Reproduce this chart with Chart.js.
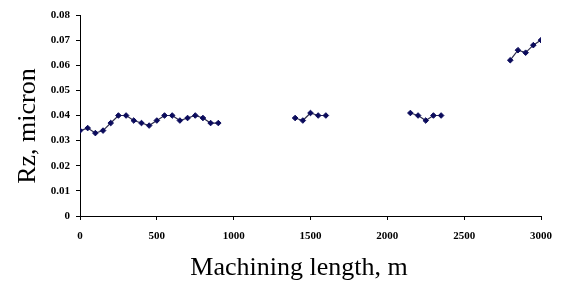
<!DOCTYPE html>
<html>
<head>
<meta charset="utf-8">
<script src="https://cdn.jsdelivr.net/npm/chart.js@4/dist/chart.umd.min.js"></script>
<style>
  html, body { margin: 0; padding: 0; background: #fff; }
  #wrap { width: 562px; height: 282px; }
</style>
</head>
<body>
<div id="wrap"><canvas id="rzChart" width="562" height="282"></canvas></div>
<script>
// machining length (m); null separates the measurement runs
const lengthM = [0, 50, 100, 150, 200, 250, 300, 350, 400, 450, 500, 550, 600, 650, 700, 750, 800, 850, 900,
  null, 1400, 1450, 1500, 1550, 1600,
  null, 2150, 2200, 2250, 2300, 2350,
  null, 2800, 2850, 2900, 2950, 3000];
// Rz, micron
const rzMicron = [0.034, 0.035, 0.033, 0.034, 0.037, 0.040, 0.040, 0.038, 0.037, 0.036, 0.038, 0.040, 0.040, 0.038, 0.039, 0.040, 0.039, 0.037, 0.037,
  null, 0.039, 0.038, 0.041, 0.040, 0.040,
  null, 0.041, 0.040, 0.038, 0.040, 0.040,
  null, 0.062, 0.066, 0.065, 0.068, 0.070];
const xTicks = [0, 500, 1000, 1500, 2000, 2500, 3000];
const yTicks = [0, 0.01, 0.02, 0.03, 0.04, 0.05, 0.06, 0.07, 0.08];
const xTitle = 'Machining length, m';
const yTitle = 'Rz, micron';

function buildPoints() {
  const pts = [];
  for (let i = 0; i < rzMicron.length; i++) {
    if (rzMicron[i] === null) {
      // gap marker: x halfway, no y
      pts.push({ x: (lengthM[i - 1] + lengthM[i + 1]) / 2, y: null });
    } else {
      pts.push({ x: lengthM[i], y: rzMicron[i] });
    }
  }
  return pts;
}

const tickFont = { family: 'Liberation Serif', size: 11, weight: 'bold' };

// axis titles drawn by hand so they sit where the original puts them
const axisTitles = {
  id: 'axisTitles',
  afterDraw(chart) {
    const ctx = chart.ctx;
    ctx.save();
    ctx.fillStyle = '#000';
    ctx.font = '26px "Liberation Serif"';
    ctx.textAlign = 'center';
    ctx.textBaseline = 'middle';
    ctx.fillText(xTitle, 299, 268);
    ctx.translate(28, 126);
    ctx.rotate(-Math.PI / 2);
    ctx.fillText(yTitle, 0, 0);
    ctx.restore();
  }
};

new Chart(document.getElementById('rzChart'), {
  type: 'line',
  data: {
    datasets: [{
      data: buildPoints(),
      showLine: true,
      borderColor: '#2e2e4e',
      borderWidth: 1.2,
      pointStyle: 'rectRot',
      pointRadius: 2.8,
      pointBackgroundColor: '#0b0b5c',
      pointBorderColor: '#0b0b5c',
      pointBorderWidth: 1,
      spanGaps: false,
      tension: 0
    }]
  },
  options: {
    responsive: false,
    animation: false,
    plugins: { legend: { display: false }, tooltip: { enabled: false } },
    layout: { padding: { left: 0, top: 15, right: 21, bottom: 0 } },
    scales: {
      x: {
        type: 'linear',
        min: 0,
        max: 3000,
        afterBuildTicks: (axis) => { axis.ticks = xTicks.map(v => ({ value: v })); },
        afterFit: (axis) => { axis.height = 66; },
        border: { color: '#000', width: 1 },
        grid: { drawOnChartArea: false, color: '#000', tickLength: 4 },
        ticks: { color: '#000', font: tickFont, padding: 10, maxRotation: 0, callback: (v) => String(v) }
      },
      y: {
        min: 0,
        max: 0.08,
        afterBuildTicks: (axis) => { axis.ticks = yTicks.map(v => ({ value: v })); },
        afterFit: (axis) => { axis.width = 80; },
        border: { color: '#000', width: 1 },
        grid: { drawOnChartArea: false, color: '#000', tickLength: 4 },
        ticks: {
          color: '#000',
          font: tickFont,
          padding: 6,
          callback: (v) => (v === 0 ? '0' : v.toFixed(2))
        }
      }
    }
  },
  plugins: [axisTitles]
});
</script>
</body>
</html>
